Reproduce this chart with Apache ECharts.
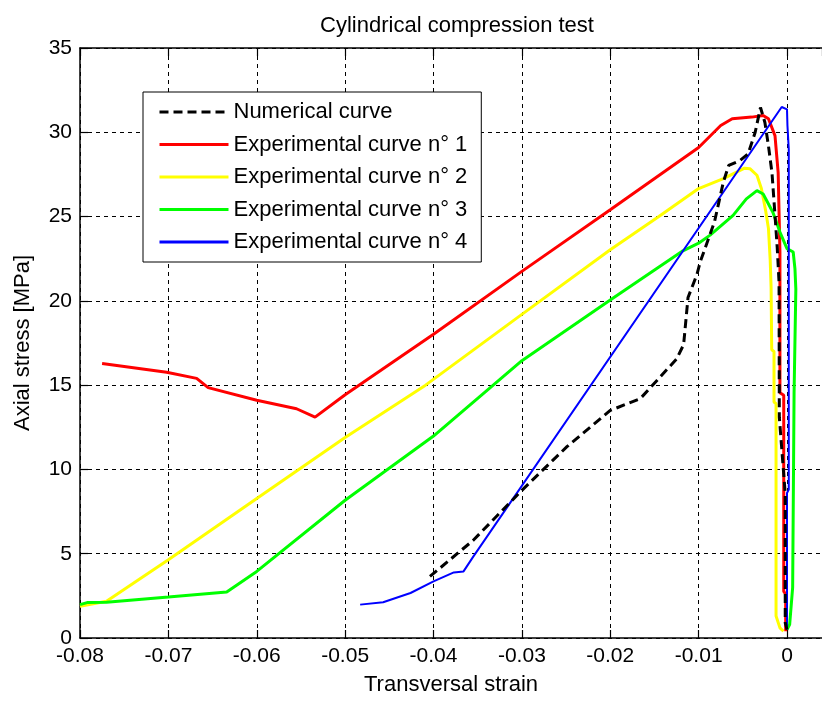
<!DOCTYPE html>
<html>
<head>
<meta charset="utf-8">
<script src="https://cdn.jsdelivr.net/npm/echarts@6/dist/echarts.min.js"></script>
<style>
  html, body { margin: 0; padding: 0; background: #fff; }
  #chart { width: 822px; height: 701px; }
</style>
</head>
<body>
<div id="chart"></div>
<script>
// values: [transversal strain, axial stress (MPa)]
var seriesNames = [
    'Numerical curve',
    'Experimental curve n° 1',
    'Experimental curve n° 2',
    'Experimental curve n° 3',
    'Experimental curve n° 4'
];

var numerical = [
    [-0.0404, 3.65], [-0.0355, 5.8], [-0.030, 8.76], [-0.0249, 11.35], [-0.020, 13.5],
    [-0.0166, 14.2], [-0.0125, 16.55], [-0.0117, 17.4], [-0.0112, 20.2], [-0.0102, 21.55],
    [-0.0098, 22.34], [-0.0082, 24.7], [-0.0072, 27.05], [-0.0066, 28.03], [-0.0053, 28.33],
    [-0.0044, 28.72], [-0.0036, 30.0], [-0.0030, 31.47], [-0.0029, 31.56], [-0.0025, 30.58],
    [-0.0021, 29.2], [-0.0017, 27.6], [-0.00136, 25.1], [-0.0011, 23.1], [-0.0009, 21.1],
    [-0.00087, 13.1], [-0.0002, 8.56], [-0.0002, 0.9], [0, 0.5]
];

var experimental1 = [
    [-0.0775, 16.28], [-0.0702, 15.77], [-0.0668, 15.4], [-0.0655, 14.85], [-0.060, 14.1],
    [-0.0555, 13.6], [-0.0534, 13.1], [-0.050, 14.43], [-0.040, 18.02], [-0.030, 21.75],
    [-0.020, 25.4], [-0.010, 29.1], [-0.0075, 30.4], [-0.0062, 30.8], [-0.0040, 30.9],
    [-0.0027, 31.0], [-0.0021, 30.8], [-0.00136, 29.8], [-0.0010, 27.6], [-0.0008, 22.9],
    [-0.0008, 14.55], [-0.00037, 14.4], [-0.00037, 2.77], [-0.00015, 2.6], [-0.00015, 0.4]
];

var experimental2 = [
    [-0.080, 1.88], [-0.077, 2.18], [-0.070, 4.64], [-0.060, 8.27], [-0.050, 11.9],
    [-0.0409, 15.0], [-0.030, 19.2], [-0.020, 23.03], [-0.0145, 25.0], [-0.010, 26.66],
    [-0.0072, 27.25], [-0.0048, 27.87], [-0.0042, 27.84], [-0.0034, 27.45], [-0.0029, 26.66],
    [-0.0024, 25.3], [-0.0021, 24.3], [-0.0019, 22.4], [-0.0018, 20.8], [-0.00173, 17.1],
    [-0.00147, 17.0], [-0.00147, 14.0], [-0.00124, 13.9], [-0.00124, 1.3], [-0.0008, 0.6],
    [-0.0004, 0.4]
];

var experimental3 = [
    [-0.080, 1.98], [-0.0792, 2.1], [-0.077, 2.12], [-0.070, 2.43], [-0.0634, 2.73],
    [-0.060, 3.95], [-0.050, 8.17], [-0.040, 11.98], [-0.030, 16.45], [-0.020, 20.05],
    [-0.0119, 22.93], [-0.010, 23.42], [-0.0087, 23.9], [-0.0061, 25.07], [-0.0046, 26.05],
    [-0.0034, 26.54], [-0.0027, 26.34], [-0.0016, 25.26], [-0.0008, 24.08], [0, 23.1],
    [0.0007, 22.9], [0.0009, 21.9], [0.0010, 20.7], [0.0008, 14.5], [0.00064, 14.4],
    [0.00064, 3.0], [0.0003, 0.8], [0, 0.5]
];

var experimental4 = [
    [-0.0483, 1.98], [-0.0457, 2.12], [-0.0426, 2.67], [-0.040, 3.36], [-0.0377, 3.89],
    [-0.0366, 3.95], [-0.0355, 4.83], [-0.0006, 31.5], [0, 31.36], [0.00005, 30.4],
    [0.0002, 29.0], [0.0002, 8.8], [0, 8.6], [0, 0.5]
];

var seriesData = [numerical, experimental1, experimental2, experimental3, experimental4];
var seriesColors = ['#000000', '#ff0000', '#ffff00', '#00ff00', '#0000ff'];
var seriesWidths = [3, 3, 3, 3, 2];

var xMin = -0.08, xMax = 0.00396, xStep = 0.01;
var yMin = 0, yMax = 35, yStep = 5;

var font = '"Liberation Sans", Arial, Helvetica, sans-serif';
var gridDash = { color: '#000', width: 1, type: [4, 4] };

var chart = echarts.init(document.getElementById('chart'), null, { renderer: 'canvas' });

var series = seriesData.map(function (d, i) {
    return {
        name: seriesNames[i],
        type: 'line',
        data: d,
        symbol: 'none',
        smooth: false,
        xAxisIndex: 0,
        z: i === 0 ? 6 : 3 + i * 0.1,
        lineStyle: {
            color: seriesColors[i],
            width: seriesWidths[i],
            type: i === 0 ? [9, 5] : 'solid'
        },
        itemStyle: { color: seriesColors[i] }
    };
});

chart.setOption({
    animation: false,
    backgroundColor: '#fff',
    textStyle: { fontFamily: font },
    title: {
        text: 'Cylindrical compression test',
        left: 452,
        top: 10,
        textAlign: 'center',
        textStyle: { fontFamily: font, fontSize: 22, fontWeight: 'normal', color: '#000' }
    },
    legend: {
        orient: 'vertical',
        left: 143,
        top: 92,
        padding: [9, 14, 9, 15],
        itemWidth: 69,
        itemHeight: 22,
        itemGap: 10.5,
        backgroundColor: '#fff',
        borderColor: '#000',
        borderWidth: 1,
        borderRadius: 0,
        itemStyle: { opacity: 0 },
        lineStyle: { width: 3 },
        data: seriesNames,
        textStyle: { fontFamily: font, fontSize: 22, color: '#000', lineHeight: 22 }
    },
    grid: { left: 80, right: 0, top: 48, bottom: 59, containLabel: false },
    xAxis: [{
        type: 'value',
        position: 'bottom',
        min: xMin,
        max: xMax,
        interval: xStep,
        name: 'Transversal strain',
        nameLocation: 'middle',
        nameGap: 36,
        nameTextStyle: { fontFamily: font, fontSize: 22, color: '#000' },
        axisLine: { onZero: false, lineStyle: { color: '#000', width: 1.5 } },
        axisTick: { inside: true, length: 8, lineStyle: { color: '#000', width: 1.2 } },
        axisLabel: {
            fontFamily: font, fontSize: 21, color: '#000', margin: 8,
            showMaxLabel: false,
            formatter: function (v) {
                var r = Math.round(v * 100) / 100;
                return Math.abs(r) < 1e-9 ? '0' : String(r);
            }
        },
        splitLine: { show: true, lineStyle: gridDash }
    }, {
        type: 'value',
        position: 'top',
        min: xMin,
        max: xMax,
        interval: xStep,
        axisLine: { show: true, onZero: false, lineStyle: { color: '#000', width: 1.5 } },
        axisTick: { show: true, inside: true, length: 8, lineStyle: { color: '#000', width: 1.2 } },
        axisLabel: { show: false },
        splitLine: { show: false }
    }],
    yAxis: {
        type: 'value',
        min: yMin,
        max: yMax,
        interval: yStep,
        name: 'Axial stress [MPa]',
        nameLocation: 'middle',
        nameGap: 46,
        nameTextStyle: { fontFamily: font, fontSize: 22, color: '#000' },
        axisLine: { show: true, onZero: false, lineStyle: { color: '#000', width: 1.5 } },
        axisTick: { show: true, inside: true, length: 8, lineStyle: { color: '#000', width: 1.2 } },
        axisLabel: { fontFamily: font, fontSize: 21, color: '#000', margin: 8 },
        splitLine: { show: true, lineStyle: gridDash }
    },
    series: series
});
</script>
</body>
</html>
